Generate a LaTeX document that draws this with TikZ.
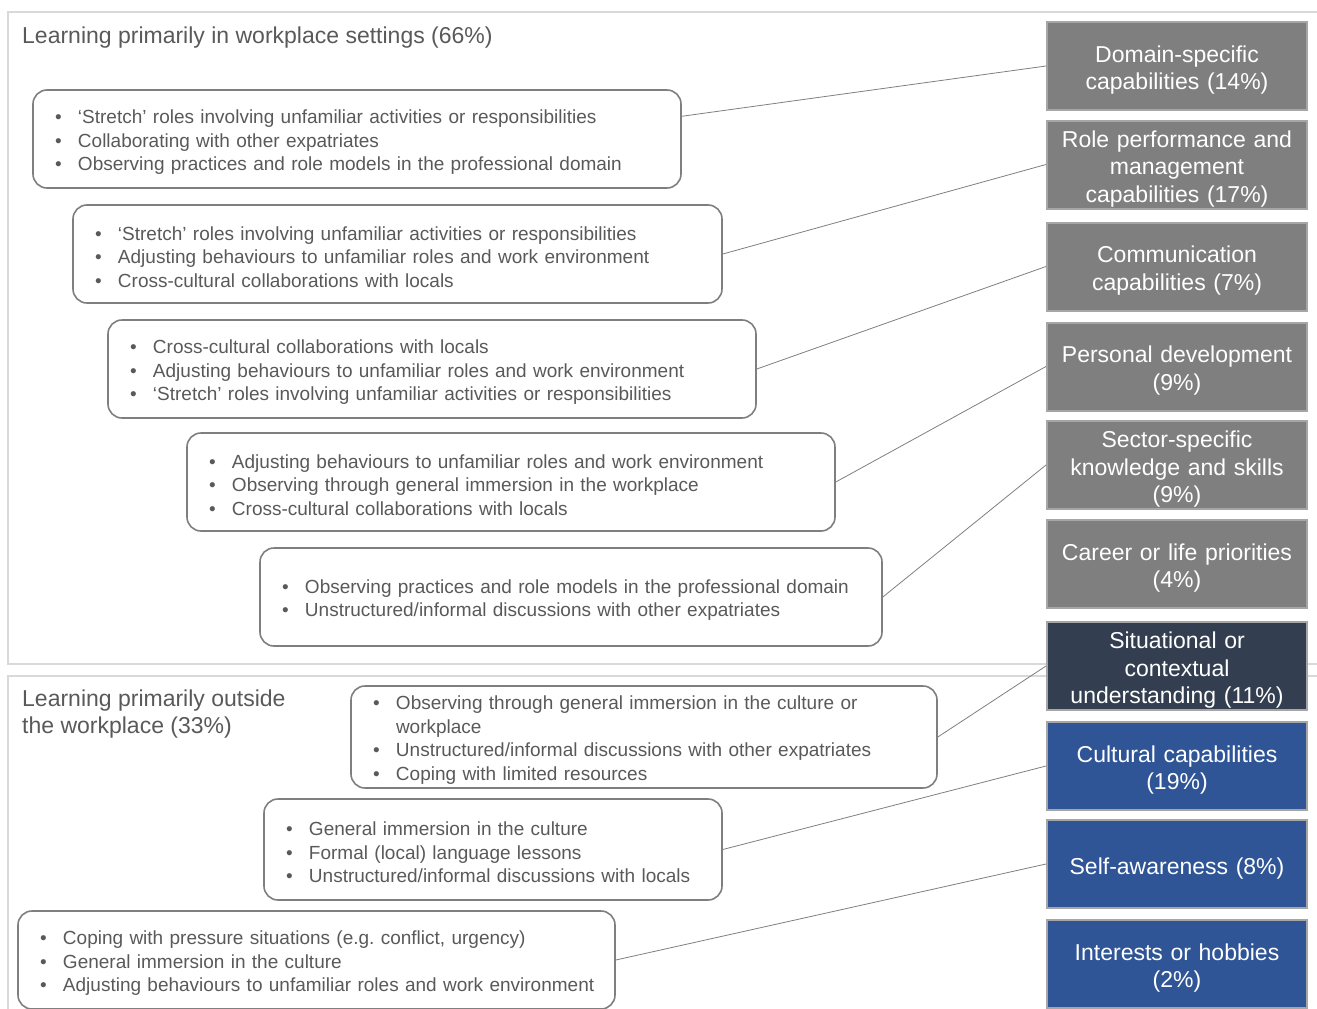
\documentclass[tikz,border=0pt]{standalone}
\usepackage{fontspec}
\setmainfont{Liberation Sans}
\frenchspacing
\definecolor{txtgray}{HTML}{595959}
\definecolor{boxgray}{HTML}{7F7F7F}
\definecolor{edgegray}{HTML}{A6A6A6}
\definecolor{panelgray}{HTML}{D9D9D9}
\definecolor{navy}{HTML}{333F50}
\definecolor{accblue}{HTML}{2F5597}
\newcommand{\itm}{\makebox[23pt][l]{\textbullet}}

\begin{document}
\begin{tikzpicture}[x=1pt, y=-1pt,
  panel/.style={draw=panelgray, line width=2pt},
  title/.style={text=txtgray, inner sep=0pt, align=left, font=\fontsize{23}{27}\selectfont},
  wpbox/.style={draw=boxgray, line width=1.6pt, rounded corners=14pt, text=txtgray, align=left,
    inner xsep=22pt, font=\fontsize{19}{23.5}\selectfont, execute at begin node=\rule{0pt}{20pt}},
  outbox/.style={fill=#1, draw=edgegray, line width=2pt, text=white, minimum width=260pt,
    minimum height=88pt, text width=256pt, align=center, inner sep=0pt, font=\fontsize{23}{27.5}\selectfont,
    execute at begin node=\rule{0pt}{25pt}},
  link/.style={draw=boxgray, line width=0.8pt}]

\useasboundingbox (0, 0) rectangle (1317, 1009);

\draw[panel] (8, 12) rectangle (1330, 664);
\draw[panel] (8, 676) rectangle (1330, 1030);

\node[title, anchor=west] (wptitle) at (22, 38) {Learning primarily in workplace settings (66\%)};
\node[title, anchor=west] (owtitle) at (22, 714) {Learning primarily outside\\the workplace (33\%)};

\node[wpbox, text width=604pt, minimum height=98pt] (wp1) at (357, 139) {\itm ‘Stretch’ roles involving unfamiliar activities or responsibilities\\\itm Collaborating with other expatriates\\\itm Observing practices and role models in the professional domain};
\node[wpbox, text width=605pt, minimum height=98pt] (wp2) at (397.5, 254) {\itm ‘Stretch’ roles involving unfamiliar activities or responsibilities\\\itm Adjusting behaviours to unfamiliar roles and work environment\\\itm Cross-cultural collaborations with locals};
\node[wpbox, text width=604pt, minimum height=98pt] (wp3) at (432, 369) {\itm Cross-cultural collaborations with locals\\\itm Adjusting behaviours to unfamiliar roles and work environment\\\itm ‘Stretch’ roles involving unfamiliar activities or responsibilities};
\node[wpbox, text width=604pt, minimum height=98pt] (wp4) at (511, 482) {\itm Adjusting behaviours to unfamiliar roles and work environment\\\itm Observing through general immersion in the workplace\\\itm Cross-cultural collaborations with locals};
\node[wpbox, text width=578pt, minimum height=98pt] (wp5) at (571, 597) {\itm Observing practices and role models in the professional domain\\\itm Unstructured/informal discussions with other expatriates};

\node[wpbox, text width=542pt, minimum height=102pt] (ow1) at (644, 737) {\itm Observing through general immersion in the culture or\\\hspace*{23pt}workplace\\\itm Unstructured/informal discussions with other expatriates\\\itm Coping with limited resources};
\node[wpbox, text width=414pt, minimum height=101pt] (ow2) at (493, 849.5) {\itm General immersion in the culture\\\itm Formal (local) language lessons\\\itm Unstructured/informal discussions with locals};
\node[wpbox, text width=553pt, minimum height=98pt] (ow3) at (316.5, 960) {\itm Coping with pressure situations (e.g. conflict, urgency)\\\itm General immersion in the culture\\\itm \mbox{Adjusting behaviours to unfamiliar roles and work environment}};

\node[outbox=boxgray] (dom) at (1177, 66) {Domain-specific\\capabilities (14\%)};
\node[outbox=boxgray] (role) at (1177, 164.5) {Role performance and\\management\\capabilities (17\%)};
\node[outbox=boxgray] (comm) at (1177, 266.5) {Communication\\capabilities (7\%)};
\node[outbox=boxgray] (pers) at (1177, 366.5) {Personal development\\(9\%)};
\node[outbox=boxgray] (sect) at (1177, 465) {Sector-specific\\knowledge and skills\\(9\%)};
\node[outbox=boxgray] (career) at (1177, 564) {Career or life priorities\\(4\%)};
\node[outbox=navy] (situ) at (1177, 666) {Situational or\\contextual\\understanding (11\%)};
\node[outbox=accblue] (cult) at (1177, 766) {Cultural capabilities\\(19\%)};
\node[outbox=accblue] (self) at (1177, 864) {Self-awareness (8\%)};
\node[outbox=accblue] (hobby) at (1177, 964) {Interests or hobbies\\(2\%)};

\draw[link] (wp1.4) -- (dom.west);
\draw[link] (wp2.east) -- (role.west);
\draw[link] (wp3.east) -- (comm.west);
\draw[link] (wp4.east) -- (pers.west);
\draw[link] (wp5.east) -- (sect.west);
\draw[link] (ow1.east) -- (situ.west);
\draw[link] (ow2.east) -- (cult.west);
\draw[link] (ow3.east) -- (self.west);

\end{tikzpicture}
\end{document}
